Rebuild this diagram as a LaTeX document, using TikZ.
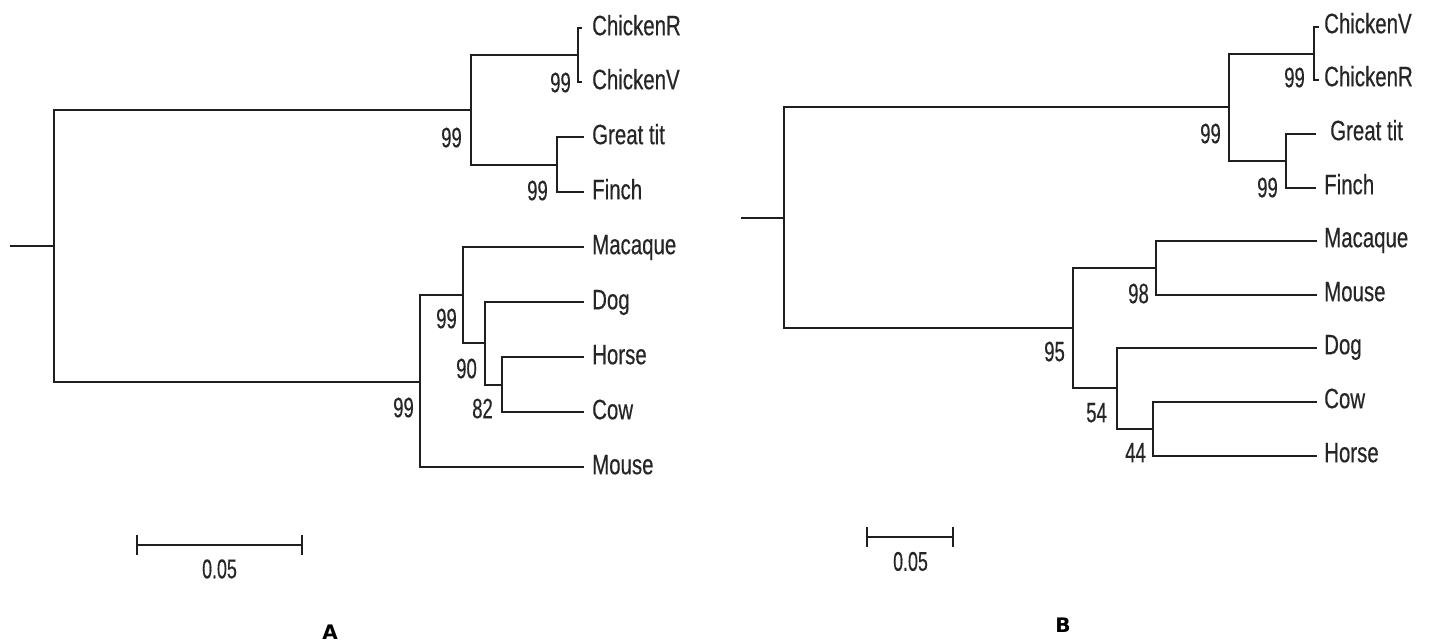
\documentclass[tikz,border=0pt]{standalone}
\usepackage{fontspec}
\newfontfamily\leaffont[FakeStretch=0.73,FakeBold=0.4]{Liberation Sans}
\newfontfamily\numfont[FakeStretch=0.66,FakeBold=0.4]{Liberation Sans}
\newfontfamily\panelfont[BoldFont={DejaVu Sans Bold}]{DejaVu Sans}
\tikzset{
  branch/.style={line width=2.4pt, draw=black!88, line cap=rect},
  leaf/.style={anchor=west, inner sep=0pt, text=black!85,
    font=\leaffont\fontsize{28}{30}\selectfont, text height=20.4pt, text depth=0pt},
  boot/.style={anchor=east, inner sep=0pt, text=black!85,
    font=\numfont\fontsize{28}{30}\selectfont, text height=20.4pt, text depth=0pt},
  scalelab/.style={anchor=center, inner sep=0pt, text=black!85,
    font=\numfont\fontsize{27}{29}\selectfont, text height=19.5pt, text depth=0pt},
  panel/.style={anchor=center, inner sep=0pt,
    font=\panelfont\bfseries\fontsize{20}{22}\selectfont}
}
\begin{document}
\begin{tikzpicture}[x=1pt,y=-1pt]
\useasboundingbox (0,0) rectangle (1431,643);

% ---------------- tree A ----------------
\coordinate (Abase) at (11,246);
\coordinate (Aroot) at (54,246);
\coordinate (Abird) at (471,110);
\coordinate (Achk)  at (578,55);
\coordinate (Agt)   at (557,165);
\coordinate (Amam)  at (420,382);
\coordinate (Amac)  at (463,295);
\coordinate (Adog)  at (485,343);
\coordinate (Ahc)   at (502,385);

\coordinate (AtChickenR) at (581,28);
\coordinate (AtChickenV) at (581,82);
\coordinate (AtGreattit) at (583,137);
\coordinate (AtFinch)    at (583,192);
\coordinate (AtMacaque)  at (583,247);
\coordinate (AtDog)      at (583,302);
\coordinate (AtHorse)    at (583,357);
\coordinate (AtCow)      at (583,412);
\coordinate (AtMouse)    at (583,467);

\node[leaf] (AChickenR) at (592,25)  {ChickenR};
\node[leaf] (AChickenV) at (592,79)  {ChickenV};
\node[leaf] (AGreattit) at (592,134) {Great tit};
\node[leaf] (AFinch)    at (592,189) {Finch};
\node[leaf] (AMacaque)  at (592,244) {Macaque};
\node[leaf] (ADog)      at (592,299) {Dog};
\node[leaf] (AHorse)    at (592,354) {Horse};
\node[leaf] (ACow)      at (592,409) {Cow};
\node[leaf] (AMouse)    at (592,464) {Mouse};

\draw[branch] (Abase) -- (Aroot);
\draw[branch] (Aroot) |- (Abird);
\draw[branch] (Aroot) |- (Amam);
\draw[branch] (Abird) |- (Achk);
\draw[branch] (Abird) |- (Agt);
\draw[branch] (Achk) |- (AtChickenR);
\draw[branch] (Achk) |- (AtChickenV);
\draw[branch] (Agt) |- (AtGreattit);
\draw[branch] (Agt) |- (AtFinch);
\draw[branch] (Amam) |- (Amac);
\draw[branch] (Amam) |- (AtMouse);
\draw[branch] (Amac) |- (AtMacaque);
\draw[branch] (Amac) |- (Adog);
\draw[branch] (Adog) |- (AtDog);
\draw[branch] (Adog) |- (Ahc);
\draw[branch] (Ahc) |- (AtHorse);
\draw[branch] (Ahc) |- (AtCow);

\node[boot] (Ab1) at (571,82)  {99};
\node[boot] (Ab2) at (462,137) {99};
\node[boot] (Ab3) at (548,190) {99};
\node[boot] (Ab4) at (414,407) {99};
\node[boot] (Ab5) at (457,318) {99};
\node[boot] (Ab6) at (477,368) {90};
\node[boot] (Ab7) at (493,408) {82};

% scale bar A
\coordinate (AsL) at (137,545);
\coordinate (AsR) at (302,545);
\draw[branch, line cap=butt] (AsL) -- (AsR);
\draw[branch, line cap=butt] ([yshift=10pt]AsL) -- ([yshift=-10pt]AsL);
\draw[branch, line cap=butt] ([yshift=10pt]AsR) -- ([yshift=-10pt]AsR);
\node[scalelab] (Ascale) at (219.5,568.5) {0.05};
\node[panel] (Apanel) at (330,632) {A};

% ---------------- tree B ----------------
\coordinate (Bbase) at (742,218);
\coordinate (Broot) at (784,218);
\coordinate (Bbird) at (1229,107);
\coordinate (Bchk)  at (1314,54);
\coordinate (Bgt)   at (1286,161);
\coordinate (Bmam)  at (1073,328);
\coordinate (Bmm)   at (1156,268);
\coordinate (Bdog)  at (1117,388);
\coordinate (Bch)   at (1153,429);

\coordinate (BtChickenV) at (1318,27);
\coordinate (BtChickenR) at (1318,80);
\coordinate (BtGreattit) at (1315,134);
\coordinate (BtFinch)    at (1315,188);
\coordinate (BtMacaque)  at (1316,241);
\coordinate (BtMouse)    at (1316,295);
\coordinate (BtDog)      at (1316,348);
\coordinate (BtCow)      at (1316,402);
\coordinate (BtHorse)    at (1316,456);

\node[leaf] (BChickenV) at (1324,23)  {ChickenV};
\node[leaf] (BChickenR) at (1324,76)  {ChickenR};
\node[leaf] (BGreattit) at (1330,130) {Great tit};
\node[leaf] (BFinch)    at (1324,184) {Finch};
\node[leaf] (BMacaque)  at (1324,237) {Macaque};
\node[leaf] (BMouse)    at (1324,291) {Mouse};
\node[leaf] (BDog)      at (1324,344) {Dog};
\node[leaf] (BCow)      at (1324,398) {Cow};
\node[leaf] (BHorse)    at (1324,452) {Horse};

\draw[branch] (Bbase) -- (Broot);
\draw[branch] (Broot) |- (Bbird);
\draw[branch] (Broot) |- (Bmam);
\draw[branch] (Bbird) |- (Bchk);
\draw[branch] (Bbird) |- (Bgt);
\draw[branch] (Bchk) |- (BtChickenV);
\draw[branch] (Bchk) |- (BtChickenR);
\draw[branch] (Bgt) |- (BtGreattit);
\draw[branch] (Bgt) |- (BtFinch);
\draw[branch] (Bmam) |- (Bmm);
\draw[branch] (Bmam) |- (Bdog);
\draw[branch] (Bmm) |- (BtMacaque);
\draw[branch] (Bmm) |- (BtMouse);
\draw[branch] (Bdog) |- (BtDog);
\draw[branch] (Bdog) |- (Bch);
\draw[branch] (Bch) |- (BtCow);
\draw[branch] (Bch) |- (BtHorse);

\node[boot] (Bb1) at (1305,77)  {99};
\node[boot] (Bb2) at (1221,133) {99};
\node[boot] (Bb3) at (1278,187) {99};
\node[boot] (Bb4) at (1149,293) {98};
\node[boot] (Bb5) at (1065,351) {95};
\node[boot] (Bb6) at (1107,412) {54};
\node[boot] (Bb7) at (1146,452) {44};

% scale bar B
\coordinate (BsL) at (867,537);
\coordinate (BsR) at (953,537);
\draw[branch, line cap=butt] (BsL) -- (BsR);
\draw[branch, line cap=butt] ([yshift=10pt]BsL) -- ([yshift=-10pt]BsL);
\draw[branch, line cap=butt] ([yshift=10pt]BsR) -- ([yshift=-10pt]BsR);
\node[scalelab] (Bscale) at (910.5,561) {0.05};
\node[panel] (Bpanel) at (1063,625) {B};
\end{tikzpicture}
\end{document}
